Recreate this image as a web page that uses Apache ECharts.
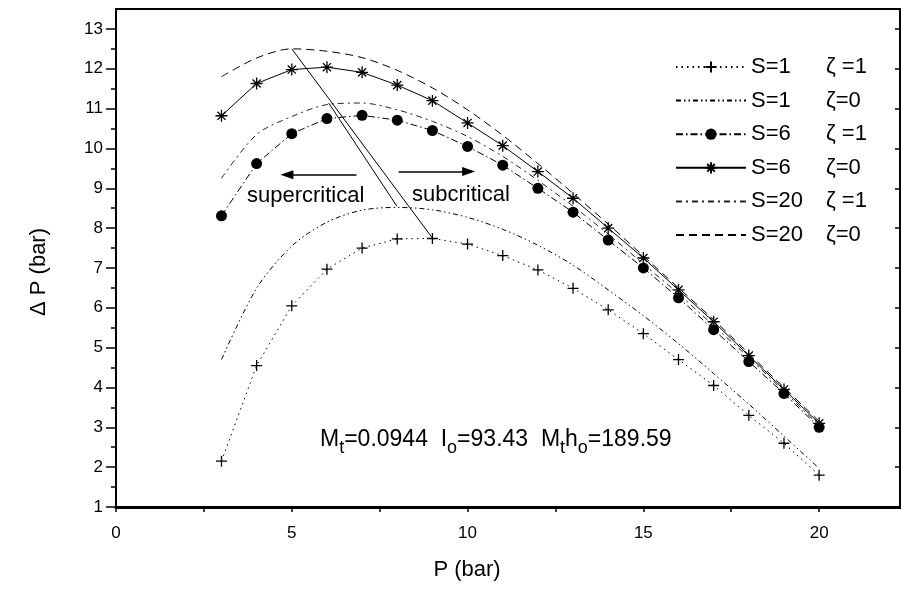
<!DOCTYPE html>
<html><head><meta charset="utf-8">
<script src="https://cdn.jsdelivr.net/npm/echarts@6/dist/echarts.min.js"></script>
<style>html,body{margin:0;padding:0;background:#fff}#c{width:901px;height:592px}</style>
</head><body><div id="c"></div>
<script>
// ---- data ----
const P = [3,4,5,6,7,8,9,10,11,12,13,14,15,16,17,18,19,20];
const s1z1  = [2.15,4.55,6.05,6.97,7.50,7.73,7.74,7.60,7.31,6.95,6.49,5.95,5.35,4.70,4.05,3.30,2.60,1.80];
const s1z0  = [4.70,6.49,7.55,8.15,8.45,8.52,8.46,8.27,7.97,7.57,7.07,6.45,5.80,5.10,4.35,3.58,2.78,1.97];
const s6z1  = [8.31,9.62,10.37,10.75,10.83,10.71,10.45,10.05,9.58,9.00,8.40,7.70,7.00,6.25,5.45,4.65,3.85,3.00];
const s6z0  = [10.82,11.63,11.98,12.04,11.91,11.59,11.20,10.64,10.07,9.42,8.75,8.00,7.25,6.45,5.65,4.80,3.95,3.10];
const s20z1 = [9.25,10.35,10.80,11.10,11.14,10.97,10.68,10.30,9.80,9.20,8.55,7.85,7.10,6.35,5.55,4.75,3.90,3.05];
const s20z0 = [11.80,12.27,12.50,12.44,12.28,11.96,11.52,10.97,10.33,9.62,8.87,8.10,7.30,6.50,5.70,4.85,4.00,3.15];
const seriesNames = ['S=1 ζ =1','S=1 ζ=0','S=6 ζ =1','S=6 ζ=0','S=20 ζ =1','S=20 ζ=0'];
const xTickVals = [0,2.5,5,7.5,10,12.5,15,17.5,20];
const xLabelVals = [0,5,10,15,20];
const yLabelVals = [1,2,3,4,5,6,7,8,9,10,11,12,13];
const yMinorVals = [1.5,2.5,3.5,4.5,5.5,6.5,7.5,8.5,9.5,10.5,11.5,12.5];
// annotation lines [x1,y1,x2,y2]
const guideLines = [[5,12.5,9,7.75],[6.05,11.14,7.99,8.55]];
const arrows = [[6.84,9.34,4.86,9.34],[8.04,9.42,10.03,9.42]];

const FONT = '"Liberation Sans", Arial, sans-serif';
const plusPath = 'path://M5 0L5 10M0 5L10 5';
const starPath = 'path://M5 0L5 10M0 5L10 5M1.6 1.6L8.4 8.4M1.6 8.4L8.4 1.6';
const noMarker = [false,true,false,false,true,true];

function pts(arr){ return P.map((x,i)=>[x,arr[i]]); }
function mk(name, arr, opt){
  return Object.assign({
    type:'line', name, data: pts(arr), xAxisIndex:0, yAxisIndex:0,
    symbol:'none', symbolSize:11, animation:false, silent:true,
    lineStyle:{color:'#000', width:1, type:'solid'},
    itemStyle:{color:'#000'}
  }, opt);
}
const markStyle = {color:'#000', borderColor:'#000', borderWidth:1.3};

const chart = echarts.init(document.getElementById('c'), null, {renderer:'canvas'});
const axisLbl = {color:'#000', fontFamily:FONT, fontSize:17};
chart.setOption({
  backgroundColor:'#fff',
  animation:false,
  grid:{left:116, right:1, top:9, bottom:85, containLabel:false},
  xAxis:[
    {type:'value', position:'bottom', min:0, max:22.3,
     name:'P (bar)', nameLocation:'middle', nameGap:52,
     nameTextStyle:{color:'#000', fontFamily:FONT, fontSize:22, padding:[0,82,0,0]},
     axisLine:{show:true, onZero:false, lineStyle:{color:'#000', width:3}},
     axisTick:{show:true, inside:false, length:5, customValues:xTickVals, lineStyle:{color:'#000', width:1.5}},
     axisLabel:Object.assign({margin:18, customValues:xLabelVals}, axisLbl),
     splitLine:{show:false}},
    {type:'value', position:'top', min:0, max:22.3,
     axisLine:{show:true, onZero:false, lineStyle:{color:'#000', width:2}},
     axisTick:{show:false}, axisLabel:{show:false}, splitLine:{show:false}}
  ],
  yAxis:[
    {type:'value', position:'left', min:1, max:13.5,
     name:'Δ P (bar)', nameLocation:'middle', nameGap:66,
     nameTextStyle:{color:'#000', fontFamily:FONT, fontSize:22, padding:[0,28,0,0]},
     axisLine:{show:true, onZero:false, lineStyle:{color:'#000', width:2}},
     axisTick:{show:true, inside:false, length:10, customValues:yLabelVals, lineStyle:{color:'#000', width:1.5}},
     axisLabel:Object.assign({margin:13, customValues:yLabelVals}, axisLbl),
     splitLine:{show:false}},
    {type:'value', position:'left', min:1, max:13.5,
     axisLine:{show:false},
     axisTick:{show:true, inside:false, length:5, customValues:yMinorVals, lineStyle:{color:'#000', width:1.5}},
     axisLabel:{show:false}, splitLine:{show:false}},
    {type:'value', position:'right', min:1, max:13.5,
     axisLine:{show:true, onZero:false, lineStyle:{color:'#000', width:2}},
     axisTick:{show:true, inside:true, length:5, customValues:yLabelVals, lineStyle:{color:'#000', width:1.5}},
     axisLabel:{show:false}, splitLine:{show:false}}
  ],
  legend:{
    data:seriesNames.map((n,i)=> noMarker[i] ? {name:n, itemStyle:{opacity:0}} : {name:n}),
    orient:'vertical', left:670, top:50,
    itemWidth:70, itemHeight:14, itemGap:9.6,
    selectedMode:false,
    textStyle:{color:'#000', fontFamily:FONT, fontSize:22, lineHeight:24,
      rich:{a:{width:75, fontFamily:FONT, fontSize:22, color:'#000'}, b:{fontFamily:FONT, fontSize:22, color:'#000'}}},
    formatter:function(n){ const i=n.indexOf(' '); return '{a|'+n.slice(0,i)+'}{b|'+n.slice(i+1)+'}'; }
  },
  series:[
    mk(seriesNames[0], s1z1, {symbol:plusPath, symbolSize:11, itemStyle:markStyle, lineStyle:{color:'#000', width:1, type:[1.5,4]}}),
    mk(seriesNames[1], s1z0, {smooth:0.3, lineStyle:{color:'#000', width:1, type:[5,3,1.5,3,1.5,3]}}),
    mk(seriesNames[2], s6z1, {symbol:'circle', symbolSize:11, itemStyle:{color:'#000', borderColor:'#000', borderWidth:0}, lineStyle:{color:'#000', width:1, type:[7,3,1.5,3]}}),
    mk(seriesNames[3], s6z0, {symbol:starPath, symbolSize:12, itemStyle:markStyle, lineStyle:{color:'#000', width:1, type:'solid'}}),
    mk(seriesNames[4], s20z1, {smooth:0.3, lineStyle:{color:'#222', width:1, type:[6,4,2,4]}}),
    mk(seriesNames[5], s20z0, {smooth:0.3, lineStyle:{color:'#000', width:1, type:[8,5]}}),
    {type:'line', name:'guides', data:[], silent:true, animation:false,
     markLine:{silent:true, animation:false, symbol:['none','none'], label:{show:false},
       lineStyle:{color:'#000', width:1, type:'solid'},
       data: guideLines.map(g=>[{coord:[g[0],g[1]]},{coord:[g[2],g[3]]}])}},
    {type:'line', name:'arrows', data:[], silent:true, animation:false,
     markLine:{silent:true, animation:false, symbol:['none','triangle'], symbolSize:[9,13], label:{show:false},
       lineStyle:{color:'#000', width:1.5, type:'solid'},
       data: arrows.map(g=>[{coord:[g[0],g[1]]},{coord:[g[2],g[3]]}])}}
  ],
  graphic:[
    {type:'text', left:247, top:185, silent:true, style:{text:'supercritical', fill:'#000', font:'22px '+FONT}},
    {type:'text', left:412, top:184, silent:true, style:{text:'subcritical', fill:'#000', font:'22px '+FONT}},
    {type:'text', left:320, top:428, silent:true, style:{
      text:'{n|M}{s|t}{n|=0.0944  I}{s|o}{n|=93.43  M}{s|t}{n|h}{s|o}{n|=189.59}',
      rich:{
        n:{fontFamily:FONT, fontSize:23, lineHeight:23, verticalAlign:'top', fill:'#000'},
        s:{fontFamily:FONT, fontSize:18, lineHeight:18, padding:[11,0,0,0], verticalAlign:'top', fill:'#000'}
      }}}
  ]
});
</script>
</body></html>
